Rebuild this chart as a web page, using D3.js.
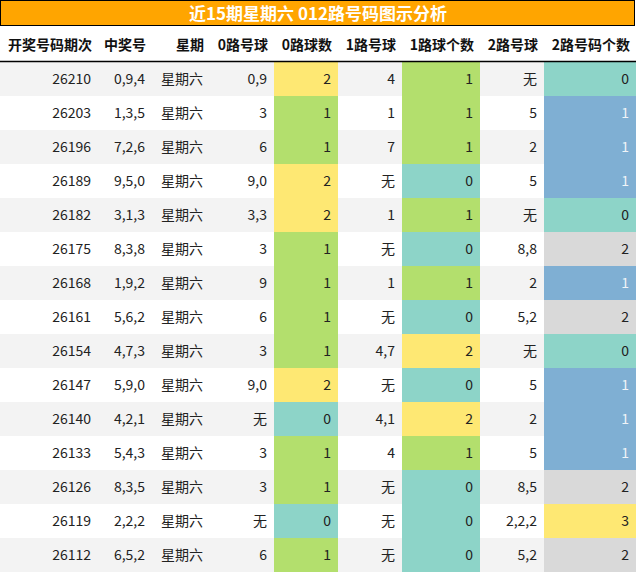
<!DOCTYPE html><html><head><meta charset="utf-8"><script src="https://cdn.jsdelivr.net/npm/d3@7"></script>
<style>body{margin:0;background:#fff}</style></head><body><script>
const title="近15期星期六 012路号码图示分析";
const headers=["开奖号码期次","中奖号","星期","0路号球","0路球数","1路号球","1路球个数","2路号球","2路号码个数"];
const periods=["26210","26203","26196","26189","26182","26175","26168","26161","26154","26147","26140","26133","26126","26119","26112"];
const numbers=["0,9,4","1,3,5","7,2,6","9,5,0","3,1,3","8,3,8","1,9,2","5,6,2","4,7,3","5,9,0","4,2,1","5,4,3","8,3,5","2,2,2","6,5,2"];
const weekday=Array(15).fill("星期六");
const road0=["0,9","3","6","9,0","3,3","3","9","6","3","9,0","无","3","3","无","6"];
const count0=[2,1,1,2,2,1,1,1,1,2,0,1,1,0,1];
const road1=["4","1","7","无","1","无","1","无","4,7","无","4,1","4","无","无","无"];
const count1=[1,1,1,0,1,0,1,0,2,0,2,1,0,0,0];
const road2=["无","5","2","5","无","8,8","2","5,2","无","5","2","5","8,5","2,2,2","5,2"];
const count2=[0,1,1,1,0,2,1,2,0,1,1,1,2,3,2];

const W=636,H=573;
const colEdges=[0,98,152,210,274,338,402,480,544,636];
const svg=d3.select("body").append("svg").attr("width",W).attr("height",H).style("font-family","'Noto Sans CJK SC','Liberation Sans',sans-serif");
const y=d3.scaleBand().domain(d3.range(15)).range([62,572]);
const c01={0:"#8dd4c8",1:"#b3df6d",2:"#fee873"};
const c2={0:"#8dd4c8",1:"#7fafd3",2:"#d9d9d9",3:"#fee873"};
svg.append("rect").attr("x",0.5).attr("y",0.5).attr("width",W-2).attr("height",25).attr("fill","#ffa500").attr("stroke","#000");
svg.append("text").attr("x",318).attr("y",20).attr("text-anchor","middle").attr("fill","#fff").attr("font-size",17).attr("font-weight","bold").text(title);
headers.forEach((h,i)=>svg.append("text").attr("x",colEdges[i+1]-6).attr("y",50).attr("text-anchor","end").attr("font-size",14).attr("font-weight","bold").attr("fill","#111").text(h));
const rows=d3.range(15);
const cols=[periods,numbers,weekday,road0,count0,road1,count1,road2,count2];
rows.forEach(r=>{
  svg.append("rect").attr("x",0).attr("y",y(r)).attr("width",W).attr("height",y.bandwidth()).attr("fill",r%2?"#fff":"#f3f3f3");
  cols.forEach((c,i)=>{
    let fill=null,tc="#222";
    if(i===4)fill=c01[count0[r]];
    if(i===6)fill=c01[count1[r]];
    if(i===8){fill=c2[count2[r]];if(count2[r]===1)tc="#f0f4f8";}
    if(fill)svg.append("rect").attr("x",colEdges[i]).attr("y",y(r)).attr("width",colEdges[i+1]-colEdges[i]).attr("height",y.bandwidth()).attr("fill",fill);
    svg.append("text").attr("x",colEdges[i+1]-7).attr("y",y(r)+y.bandwidth()/2+5).attr("text-anchor","end").attr("font-size",14).attr("fill",tc).text(c[r]);
  });
});
svg.append("line").attr("x1",0).attr("x2",W).attr("y1",61.5).attr("y2",61.5).attr("stroke","#000").attr("stroke-width",1.5);
</script></body></html>
